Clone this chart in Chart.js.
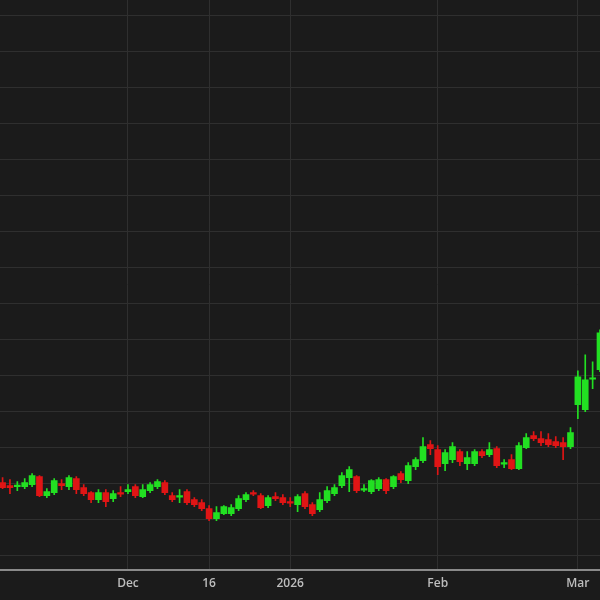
<!DOCTYPE html>
<html><head><meta charset="utf-8">
<script src="https://cdn.jsdelivr.net/npm/chart.js@4/dist/chart.umd.min.js"></script>
<style>html,body{margin:0;padding:0;background:#1b1b1b;}canvas{display:block;}</style>
</head><body>
<canvas id="c" width="600" height="600"></canvas>
<script>
const tickIndex = [18, 29, 40, 60, 79];
const tickLabels = ['Dec', '16', '2026', 'Feb', 'Mar'];
const openV  = [117,114,113.5,113,115,123,104,107,116,113,121,112,107,100,107,101,106.5,108,113,103,109,113,117,104,103,108,100,97,91,81,86,86,91,100,106.5,104,94,103,102,97.5,95,106,95,90,99,106,114,122,123,110,108,111,120,113,126,119,133,139,155,150,136,140,148,136,136,148,145,151,136,140,131,152,164,161,160,158,157,153,195,190,221,230];
const highV  = [122,120,118,121,126,124,111,121,120,124,123,115,108,110,110,109,113,115,115,115,117,120,119,107,110,110,102,100,94,93,94,95,104,107,109,106,104,107,105,102,105,108,97,107,113,115,127,133,124,115,120,122,121,124,128,137,142,162,159,154,150,157,150,148,150,150,157,153,140,145,157,166,168,168,166,163,162,172,229,245,238,270];
const lowV   = [111,106,109,111,113,103,102,105,110,110,106,104,97,97,93,98,103,106,102,102,107,111,105,98,97,95,93,89,79,79,85,84,89,98,104,91,92,99,95,93,88,91,84,88,97,104,112,108,107,108,106,109,106,111,117,116,130,137,145,125,129,137,134,130,134,142,143,132,132,130,130,151,159,154,153,152,140,151,181,188,211,228];
const closeV = [112,112,114,117,124,104,108,119,114,122,110,106,100,107,98,106,106,110,104,110,115,118,107,100,103.5,97,95,91,81,87,93,92,101,105,106,92,102,101,97,97,103,93,86,100,109,112,124,130,109,110.5,119,120,109,123,120,134,140,153,151,133,147,153,138,142,148,144,150,134,136.5,131,154,162,161,157,155,154,153,167,223,220,221.5,267];

const UP = '#22e022', DOWN = '#e01515';
const idx = openV.map((_, i) => i + 1);
const colors = openV.map((o, i) => closeV[i] >= o ? UP : DOWN);
const bodies = idx.map((x, i) => {
  let a = Math.min(openV[i], closeV[i]), b = Math.max(openV[i], closeV[i]);
  if (b - a < 1.5) { const m = (a + b) / 2; a = m - 0.75; b = m + 0.75; }
  return { x, y: [a, b] };
});
const wicks = idx.map((x, i) => ({ x, y: [lowV[i], highV[i]] }));

new Chart(document.getElementById('c'), {
  type: 'bar',
  data: { datasets: [
    { data: bodies, backgroundColor: colors, barThickness: 6, order: 1, grouped: false, borderWidth: 0 },
    { data: wicks, backgroundColor: colors, barThickness: 1, order: 2, grouped: false, borderWidth: 0 }
  ]},
  options: {
    responsive: false, animation: false,
    layout: { padding: { bottom: 2 } },
    plugins: { legend: { display: false }, tooltip: { enabled: false } },
    scales: {
      x: {
        type: 'linear', min: 0.65, max: 82.0, offset: false,
        afterBuildTicks: ax => { ax.ticks = tickIndex.map(v => ({ value: v })); },
        ticks: { color: '#bdbdbd', font: { family: 'Open Sans', size: 12, weight: '600' }, padding: 7,
                 callback: v => { const k = tickIndex.indexOf(v); return k >= 0 ? tickLabels[k] : ''; } },
        grid: { color: '#2f2f2f', drawTicks: false, offset: false },
        border: { color: '#8a8a8a', width: 2 }
      },
      y: {
        min: 30, max: 600,
        afterBuildTicks: ax => { const t = []; for (let k = 0; k < 16; k++) t.push({ value: 44 + 36 * k }); ax.ticks = t; },
        ticks: { display: false },
        grid: { color: '#2f2f2f', drawTicks: false },
        border: { display: false }
      }
    }
  },
  plugins: [{ id: 'bg', beforeDraw: c => { const g = c.ctx; g.save(); g.fillStyle = '#1b1b1b'; g.fillRect(0, 0, c.width, c.height); g.restore(); } }]
});
</script>
</body></html>
